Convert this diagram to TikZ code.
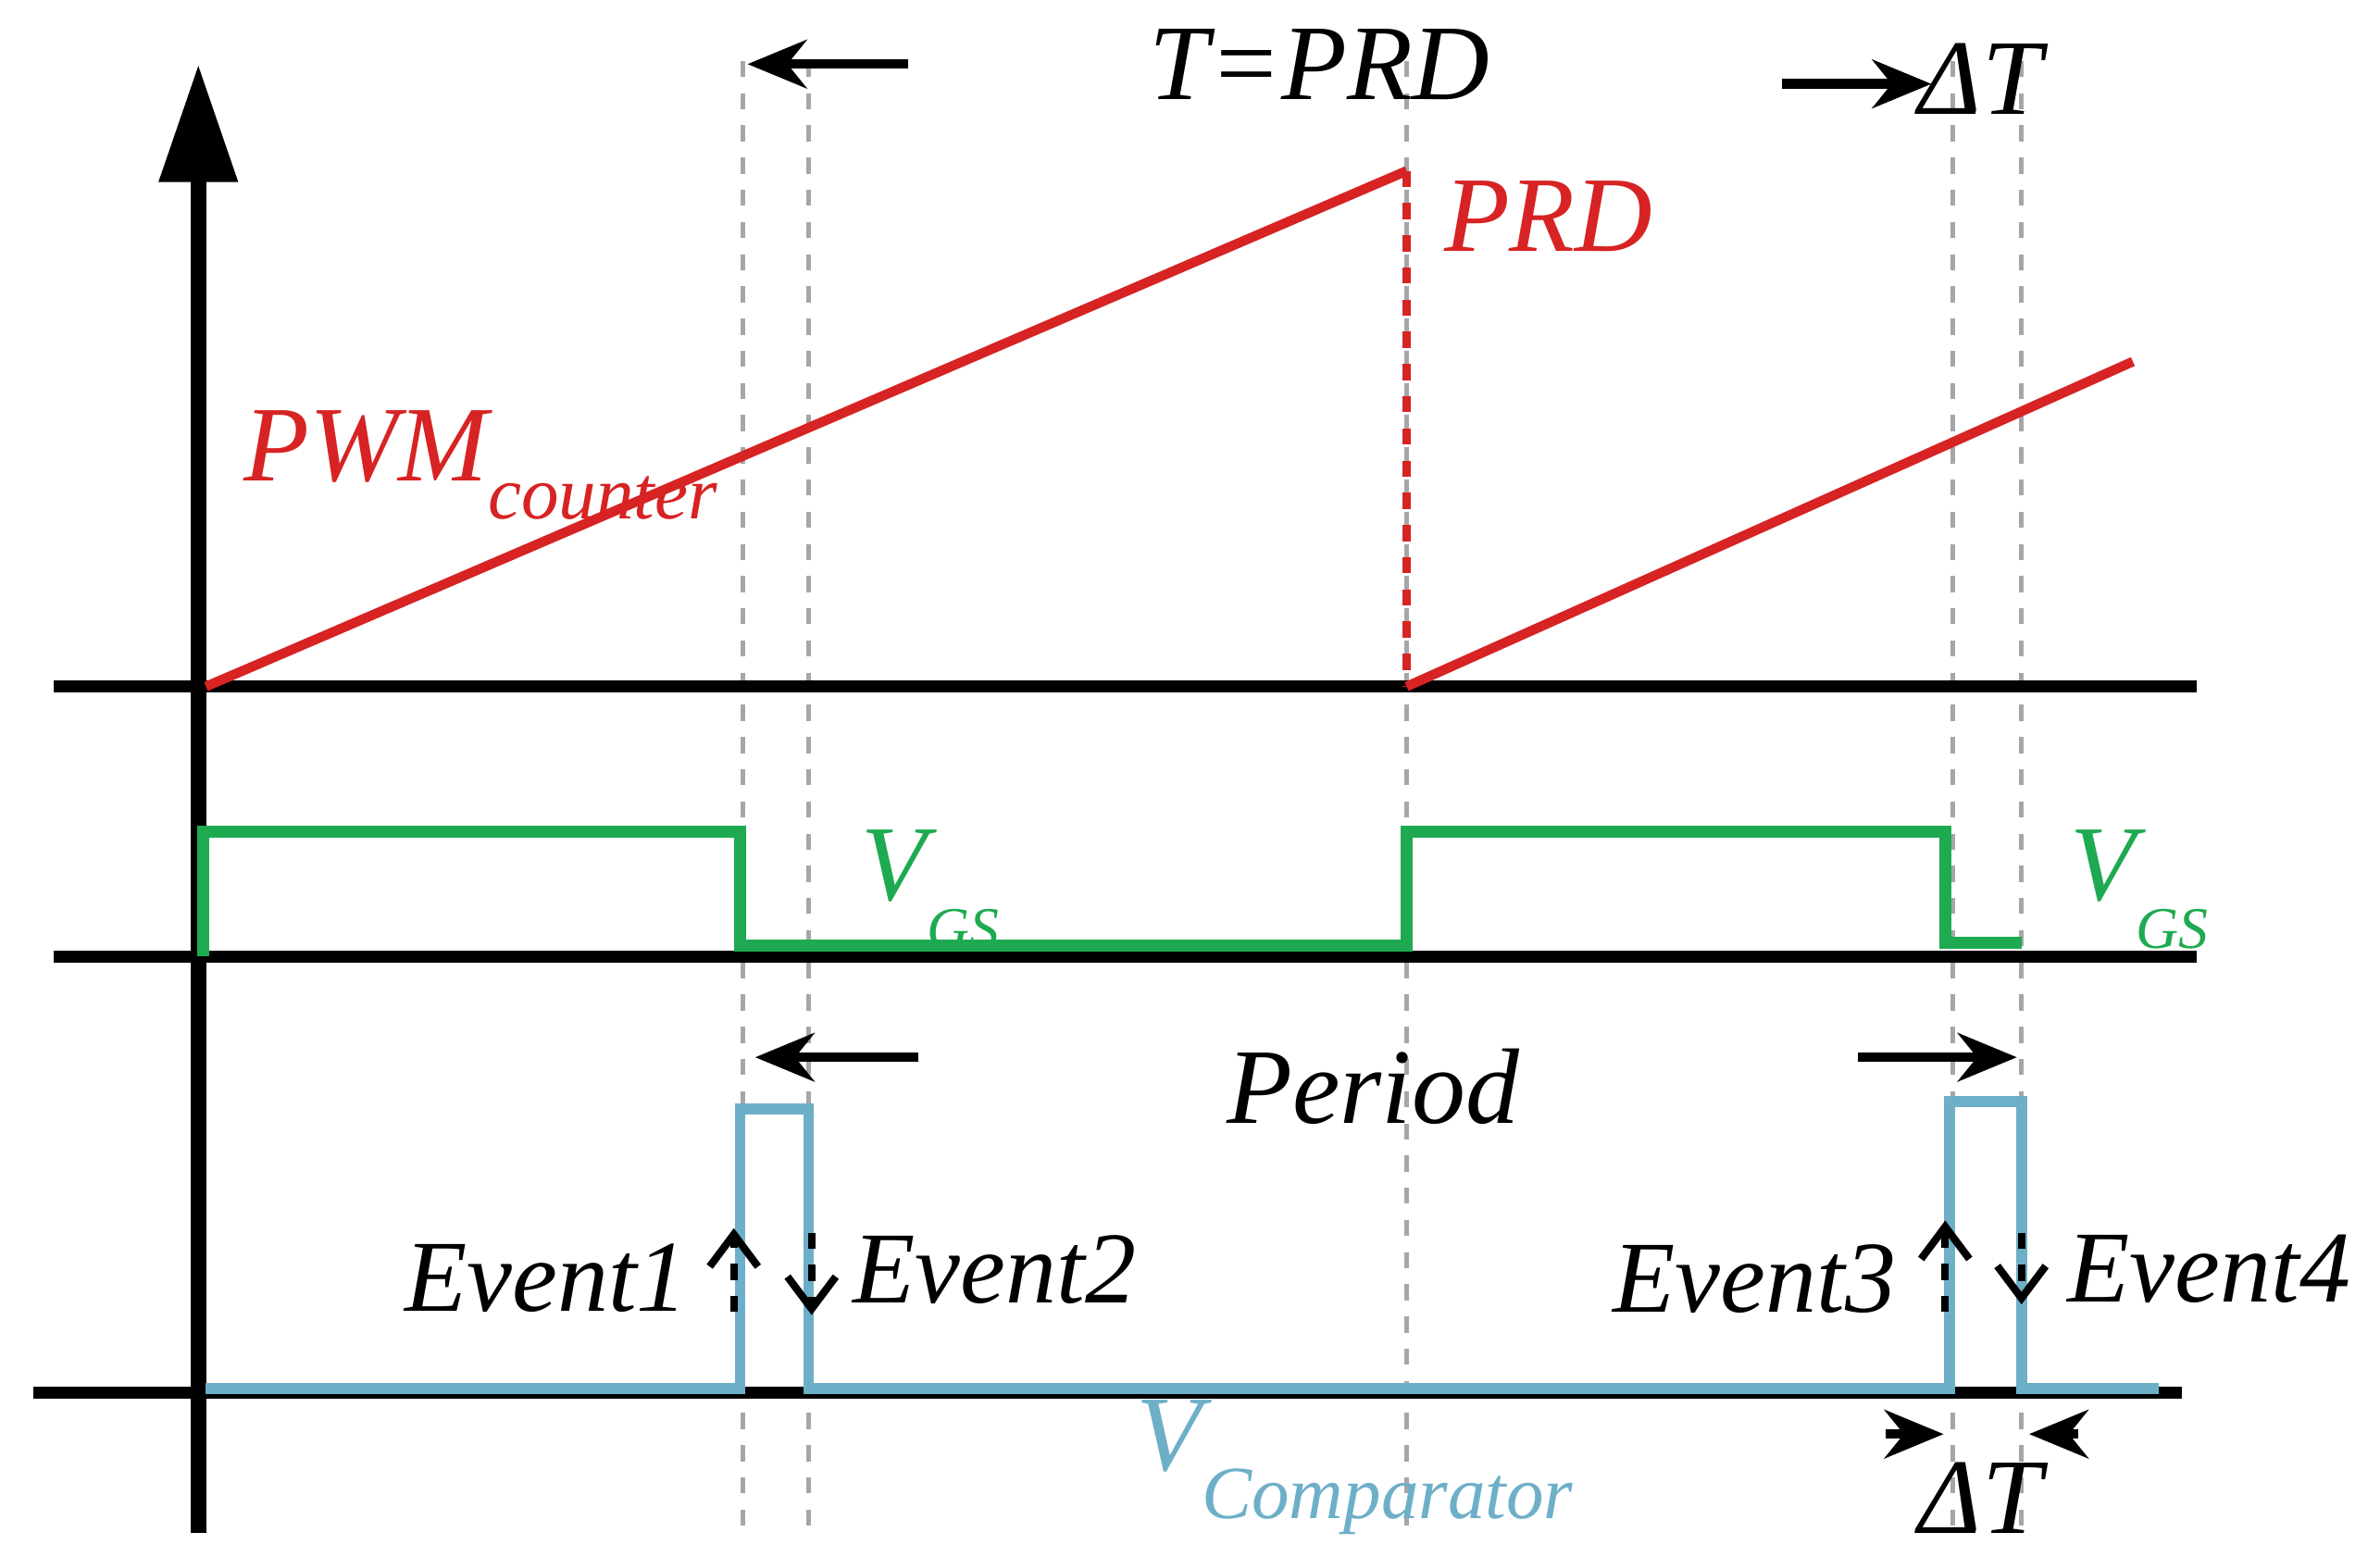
\documentclass[tikz,border=0pt]{standalone}
\usepackage{fontspec}
\setmainfont{Liberation Serif}
\usetikzlibrary{arrows.meta}
\definecolor{rd}{RGB}{215,35,35}
\definecolor{gn}{RGB}{30,170,80}
\definecolor{bl}{RGB}{110,175,200}
\begin{document}
\begin{tikzpicture}[x=0.01cm,y=-0.01cm,
  ax/.style={line width=2.2pt,black},
  gd/.style={gray!70,dashed,line width=0.9pt},
  ar/.style={line width=1.8pt,-{Stealth[length=11pt,width=9pt]}},
  big/.style={font=\fontsize{20}{24}\selectfont\itshape,inner sep=0pt},
  mid/.style={font=\fontsize{19}{22}\selectfont\itshape,inner sep=0pt}]
\useasboundingbox (0,0) rectangle (1560,1020);
\foreach \x in {487,530,922,1280,1325} \draw[gd] (\x,40) -- (\x,1005);
\coordinate (yb) at (130,1005); \coordinate (yt) at (130,42);
\draw[line width=3pt,-{Triangle[length=22pt,width=14pt]}] (yb) -- (yt);
\coordinate (a1l) at (35,450); \coordinate (a1r) at (1440,450);
\coordinate (a2l) at (35,627); \coordinate (a2r) at (1440,627);
\coordinate (a3l) at (22,913); \coordinate (a3r) at (1430,913);
\draw[ax] (a1l)--(a1r); \draw[ax] (a2l)--(a2r); \draw[ax] (a3l)--(a3r);
% red
\draw[rd,line width=1.8pt] (135,450) -- (922,112);
\draw[rd,dashed,line width=1.5pt] (922,112) -- (922,450);
\draw[rd,line width=1.8pt] (922,450) -- (1398,237);
% green
\draw[gn,line width=2.2pt] (133,627) -- (133,545) -- (485,545) -- (485,620) -- (922,620) -- (922,545) -- (1275,545) -- (1275,618) -- (1325,618);
% blue
\draw[bl,line width=2pt] (135,910) -- (485,910) -- (485,727) -- (530,727) -- (530,910) -- (1278,910) -- (1278,722) -- (1325,722) -- (1325,910) -- (1415,910);
% top
\node[big] (t) at (865,42) {T=PRD};
\coordinate (l1s) at (595,42); \coordinate (l1e) at (490,42);
\draw[ar] (l1s) -- (l1e);
\coordinate (r1s) at (1168,55); \coordinate (r1e) at (1266,55);
\draw[ar] (r1s) -- (r1e);
\node[big] (dt1) at (1298,52) {ΔT};
\node[big,text=rd] (prd) at (1015,142) {PRD};
\node[big,text=rd] (pwm) at (315,305) {PWM\raisebox{-7pt}{\fontsize{14}{16}\selectfont counter}};
\node[big,text=gn] (vg1) at (610,583) {V\raisebox{-9pt}{\fontsize{11}{12}\selectfont GS}};
\node[big,text=gn] (vg2) at (1402,583) {V\raisebox{-9pt}{\fontsize{11}{12}\selectfont GS}};
\node[big] (per) at (900,712) {Period};
\coordinate (l2s) at (602,693); \coordinate (l2e) at (495,693);
\draw[ar] (l2s) -- (l2e);
\coordinate (r2s) at (1218,693); \coordinate (r2e) at (1322,693);
\draw[ar] (r2s) -- (r2e);
\node[mid] (e1) at (358,838) {Event1};
\node[mid] (e2) at (652,832) {Event2};
\node[mid] (e3) at (1150,838) {Event3};
\node[mid] (e4) at (1448,832) {Event4};
\tikzset{sa/.style={line width=1.4pt,dashed,-{Straight Barb[length=6pt,width=9pt]}}}
\draw[sa] (481,860) -- (481,805);
\draw[sa] (532,808) -- (532,862);
\draw[sa] (1275,860) -- (1275,800);
\draw[sa] (1325,808) -- (1325,855);
\coordinate (b1s) at (1236,940); \coordinate (b1e) at (1274,940);
\draw[ar] (b1s) -- (b1e);
\coordinate (b2s) at (1362,940); \coordinate (b2e) at (1330,940);
\draw[ar] (b2s) -- (b2e);
\node[big] (dt2) at (1298,982) {ΔT};
\node[big,text=bl] (vc) at (888,962) {V\raisebox{-9pt}{\fontsize{14}{16}\selectfont Comparator}};
\end{tikzpicture}
\end{document}
